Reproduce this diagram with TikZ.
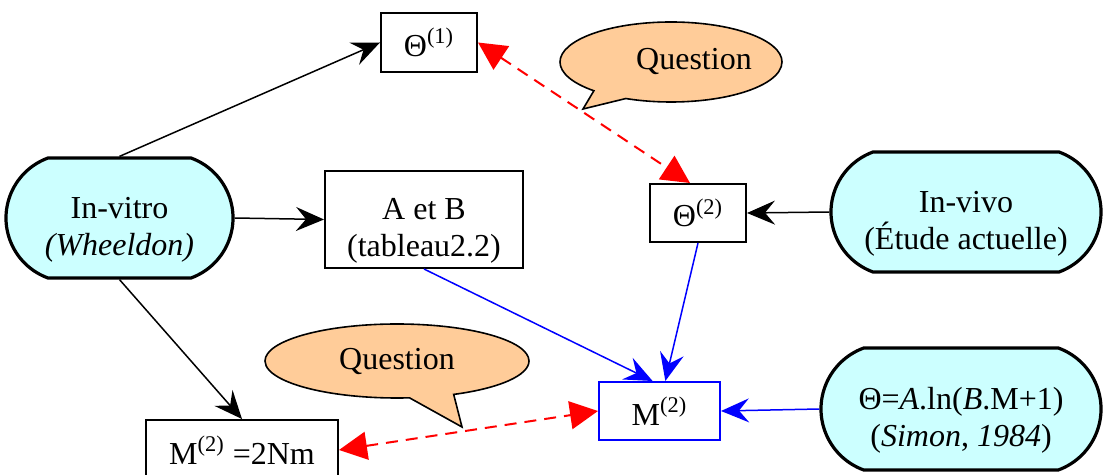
\documentclass[tikz,border=0pt]{standalone}
\usepackage{fontspec}
\setmainfont{Liberation Serif}
\usetikzlibrary{positioning,arrows.meta,shapes.misc,shapes.callouts}
\definecolor{PaleCyan}{HTML}{CCFFFF}
\definecolor{Peach}{HTML}{FFCC99}
\newcommand{\haut}{\rule{0pt}{22pt}}
\begin{document}
\begin{tikzpicture}[x=0.5pt,y=-0.5pt,
    font=\fontsize{16}{18.5}\selectfont,
    term/.style={rounded rectangle,rounded rectangle arc length=140,
                 draw=black,line width=1.6pt,fill=PaleCyan,
                 align=center,inner sep=2pt},
    val/.style={draw=black,line width=1pt,fill=white,
                align=center,inner sep=2pt},
    bulle/.style={ellipse callout,draw=black,line width=0.8pt,fill=Peach,
                  minimum width=111pt,minimum height=40pt,
                  callout pointer arc=20},
    ar/.style={-{Stealth[length=14pt,width=12pt,inset=5pt]},line width=0.75pt},
    bl/.style={ar,blue},
    qr/.style={{Triangle[length=14pt,width=14pt]}-{Triangle[length=14pt,width=14pt]},
               red,line width=1pt,dash pattern=on 6pt off 4pt}]
  \useasboundingbox (0,0) rectangle (1107,475);
  % sources
  \node[term,minimum width=117.5pt,minimum height=60pt] (vitro) at (119.5,218)
        {\haut In-vitro\\\textit{(Wheeldon)}};
  \node[term,minimum width=139pt,minimum height=60pt] (vivo) at (966,212)
        {\haut In-vivo\\(Étude actuelle)};
  \node[term,minimum width=144pt,minimum height=61pt] (simon) at (961,409)
        {\haut Θ=\textit{A}.ln(\textit{B}.M+1)\\(\textit{Simon}, \textit{1984})};
  % grandeurs
  \node[val,minimum width=48pt,minimum height=29.5pt] (t1) at (429,42.5)
        {Θ\textsuperscript{(1)}};
  \node[val,minimum width=99pt,minimum height=48.5pt] (ab) at (424,219.5)
        {\haut A et B\\(tableau2.2)};
  \node[val,minimum width=48pt,minimum height=29pt] (t2) at (698,213)
        {Θ\textsuperscript{(2)}};
  \node[val,draw=blue,minimum width=60.5pt,minimum height=29pt] (m2) at (659.5,411)
        {M\textsuperscript{(2)}};
  \node[val,minimum width=96pt,minimum height=30pt] (mnm) at (242,450)
        {M\textsuperscript{(2)} =2Nm};
  % bulles
  \coordinate (q1tip) at (583,109);
  \coordinate (q2tip) at (462,427);
  \node[bulle,callout absolute pointer={(q1tip)}] (q1) at (671,62)
        {\hspace*{11.5pt}Question\hspace*{-11.5pt}};
  \node[bulle,minimum width=132pt,minimum height=37pt,
        callout absolute pointer={(q2tip)}] (q2) at (397,361) {Question};
  % fleches
  \draw[ar] (vitro.north) -- (t1.west);
  \draw[ar] (vitro.east) -- (ab.west);
  \draw[ar] (vitro.south) -- (mnm.north);
  \draw[ar] (vivo.west) -- (t2.east);
  \draw[bl] (ab.south) -- (m2.103);
  \draw[bl] (t2.south) -- (m2.79);
  \draw[bl] (simon.west) -- (m2.east);
  \draw[qr] (t1.east) -- (t2.105);
  \draw[qr] (mnm.east) -- (m2.west);
\end{tikzpicture}
\end{document}
